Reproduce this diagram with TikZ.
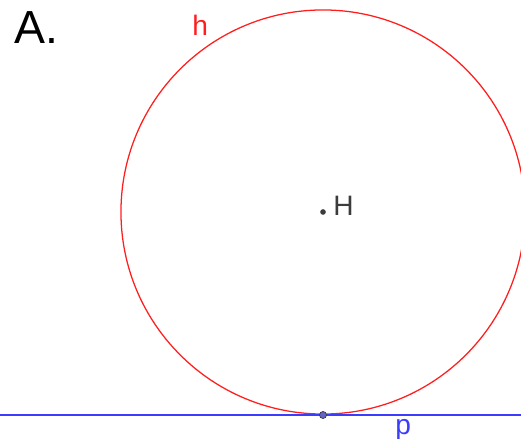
\documentclass[tikz,border=0pt]{standalone}
\usepackage{fontspec}
\setmainfont{Liberation Sans}
\usepackage{xcolor}
\definecolor{hred}{RGB}{255,30,30}
\definecolor{pblue}{RGB}{60,60,255}
\definecolor{hgray}{RGB}{60,60,60}
\definecolor{ptfill}{RGB}{100,100,200}

\begin{document}
\begin{tikzpicture}[
    x=0.025cm, y=-0.025cm,
    lbl/.style={inner sep=0pt, font=\fontsize{20}{20}\selectfont},
    pt/.style={circle, draw=hgray, fill=ptfill, line width=0.5pt, inner sep=0pt, minimum size=5pt}
]
\clip (0,0) rectangle (521,439);
\useasboundingbox (0,0) rectangle (521,439);

% circle h with centre H
\coordinate (H) at (323,212);
\draw[hred, line width=0.9pt] (H) circle[radius=5.05cm];
\fill[hgray] (H) circle[radius=2pt];

% tangent line p
\coordinate (pl) at (0,415);
\coordinate (pr) at (521,415);
\draw[pblue, line width=0.9pt] (pl) -- (pr);
\node[pt] (T) at (323,415) {};

% labels
\node[lbl, anchor=base west, font=\fontsize{33}{33}\selectfont] (title) at (14,44) {A.};
\node[lbl, anchor=base west, text=hred] (hlab) at (192,36) {h};
\node[lbl, anchor=base west, text=hgray] (Hlab) at (333,216) {H};
\node[lbl, anchor=base west, text=pblue] (plab) at (395,434) {p};
\end{tikzpicture}
\end{document}
